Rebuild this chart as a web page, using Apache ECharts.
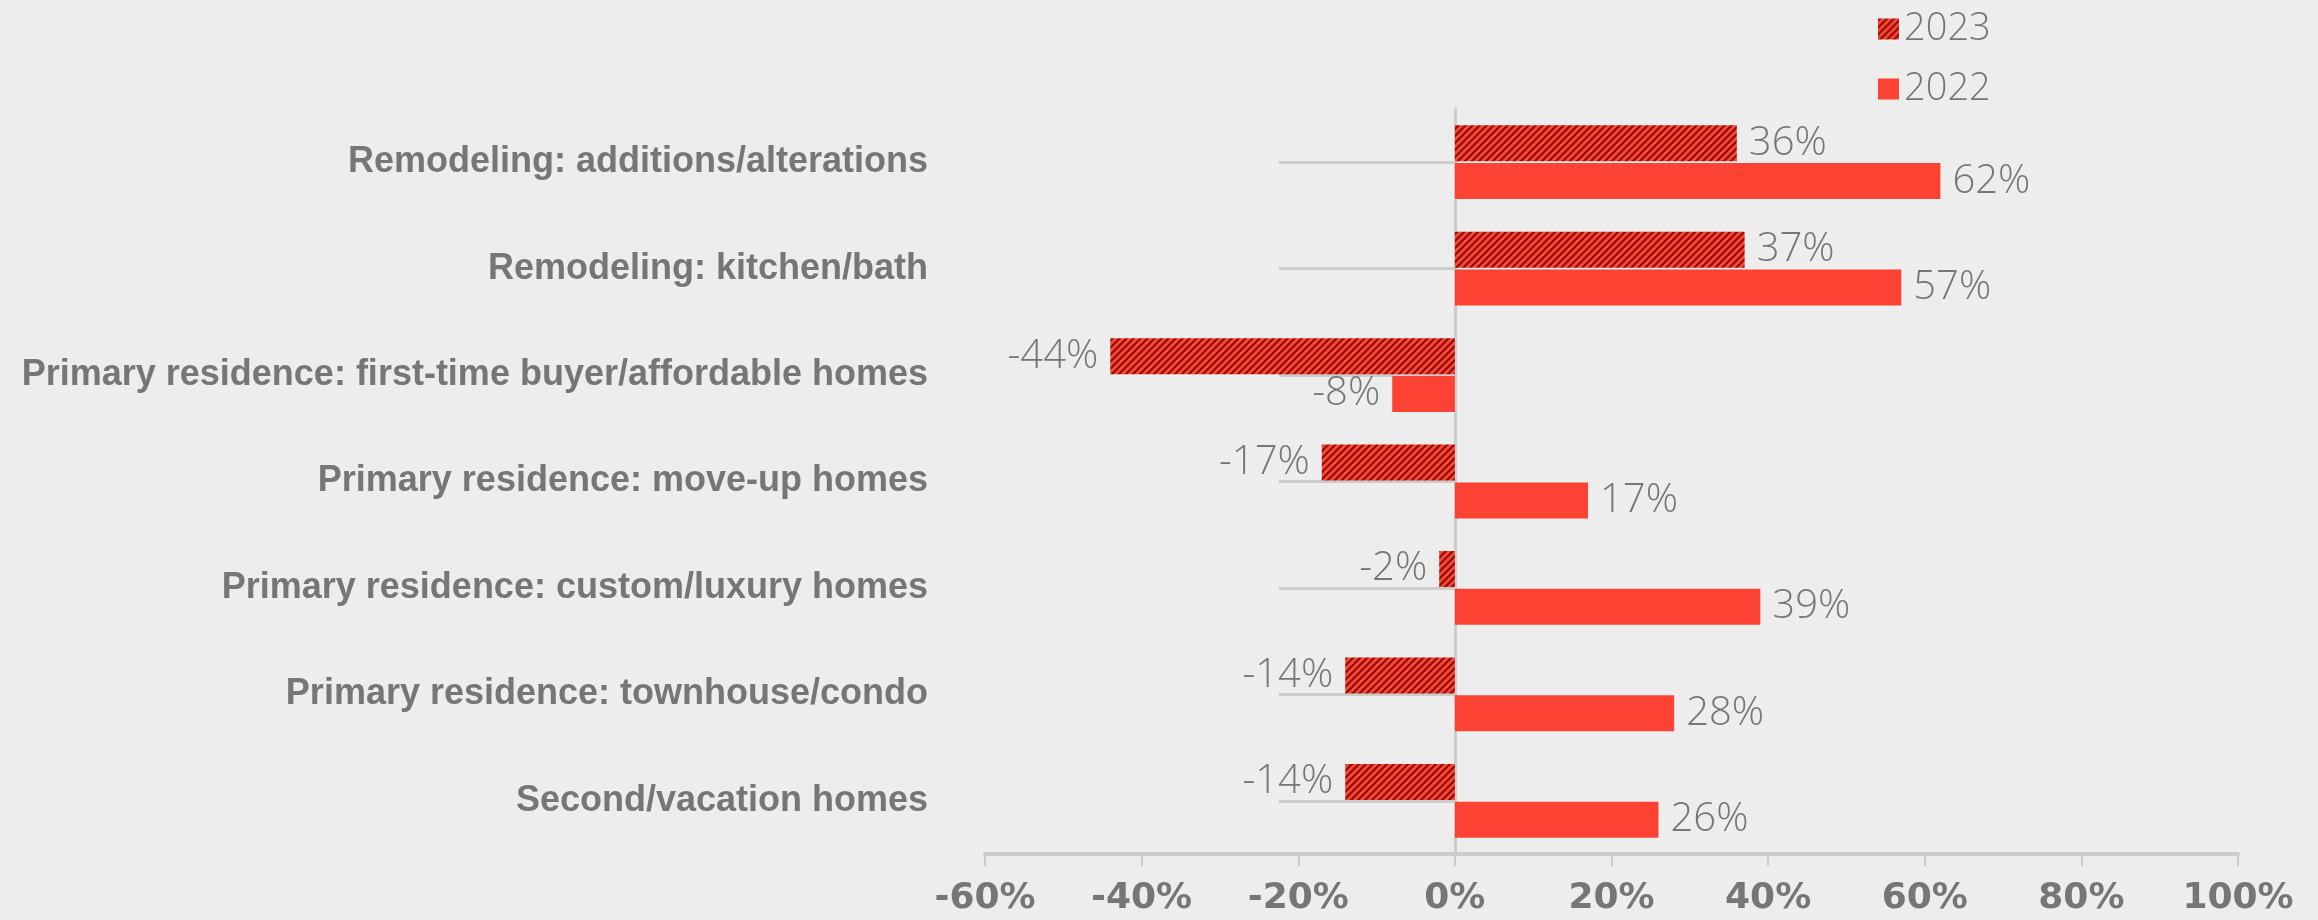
<!DOCTYPE html>
<html>
<head>
<meta charset="utf-8">
<script src="https://cdn.jsdelivr.net/npm/echarts@6/dist/echarts.min.js"></script>
<style>
html,body{margin:0;padding:0;background:#EDEDED;}
#chart{width:2318px;height:920px;}
</style>
</head>
<body>
<div id="chart"></div>
<script>
const categories = [
  'Remodeling: additions/alterations',
  'Remodeling: kitchen/bath',
  'Primary residence: first-time buyer/affordable homes',
  'Primary residence: move-up homes',
  'Primary residence: custom/luxury homes',
  'Primary residence: townhouse/condo',
  'Second/vacation homes'
];
const seriesNames = ['2023', '2022'];
const values2023 = [36, 37, -44, -17, -2, -14, -14];
const values2022 = [62, 57, -8, 17, 39, 28, 26];
const xTicks = { min: -60, max: 100, interval: 20 };

const RED = '#FC4232';
const DARK = '#8A1208';
const GREY_TEXT = '#767676';
const AXIS_GREY = '#CCCCCC';

function makeHatch() {
  const s = 7;
  const c = document.createElement('canvas');
  c.width = s; c.height = s;
  const ctx = c.getContext('2d');
  ctx.fillStyle = RED;
  ctx.fillRect(0, 0, s, s);
  ctx.fillStyle = DARK;
  for (let y = 0; y < s; y++) {
    for (let x = 0; x < s; x++) {
      if (((x + y) % s) < 3) ctx.fillRect(x, y, 1, 1);
    }
  }
  return c;
}
const hatch = { image: makeHatch(), repeat: 'repeat' };

function toItems(arr) {
  return arr.map(v => ({ value: v, label: { position: v < 0 ? 'left' : 'right' } }));
}

const labelStyle = {
  show: true,
  distance: 12,
  formatter: p => p.value + '%',
  color: GREY_TEXT,
  fontFamily: 'Open Sans',
  fontWeight: 300,
  fontSize: 40
};

const chart = echarts.init(document.getElementById('chart'), null, { renderer: 'canvas' });
chart.setOption({
  backgroundColor: '#EDEDED',
  animation: false,
  legend: {
    orient: 'vertical',
    left: 1873,
    top: 5,
    itemWidth: 21,
    itemHeight: 21,
    itemGap: 22,
    icon: 'rect',
    data: seriesNames,
    textStyle: { color: GREY_TEXT, fontFamily: 'Open Sans', fontWeight: 300, fontSize: 38, lineHeight: 38 }
  },
  grid: { left: 985, right: 80, top: 109, bottom: 66 },
  xAxis: {
    type: 'value',
    min: xTicks.min, max: xTicks.max, interval: xTicks.interval,
    splitLine: { show: false },
    axisLine: { show: true, lineStyle: { color: AXIS_GREY, width: 4 } },
    axisTick: { show: true, length: 12, lineStyle: { color: AXIS_GREY, width: 2 } },
    axisLabel: {
      margin: 27,
      formatter: v => v + '%',
      color: GREY_TEXT,
      fontFamily: 'DejaVu Sans',
      fontWeight: 'bold',
      fontSize: 36
    }
  },
  yAxis: [
    {
      type: 'category',
      data: categories,
      inverse: true,
      position: 'right',
      axisLine: { show: true, onZero: true, lineStyle: { color: AXIS_GREY, width: 3 } },
      axisTick: { show: true, inside: true, alignWithLabel: true, length: 176, lineStyle: { color: AXIS_GREY, width: 3 } },
      axisLabel: { show: false },
      splitLine: { show: false }
    },
    {
      type: 'category',
      data: categories,
      inverse: true,
      position: 'left',
      axisLine: { show: false, onZero: false },
      axisTick: { show: false },
      splitLine: { show: false },
      axisLabel: {
        margin: 57,
        color: GREY_TEXT,
        fontFamily: 'Liberation Sans',
        fontWeight: 'bold',
        fontSize: 36
      }
    }
  ],
  series: [
    {
      name: seriesNames[0],
      type: 'bar',
      yAxisIndex: 0,
      data: toItems(values2023),
      barWidth: 36,
      barGap: '5%',
      itemStyle: { color: hatch },
      label: labelStyle
    },
    {
      name: seriesNames[1],
      type: 'bar',
      yAxisIndex: 0,
      data: toItems(values2022),
      barWidth: 36,
      barGap: '5%',
      itemStyle: { color: RED },
      label: labelStyle
    }
  ]
});
</script>
</body>
</html>
